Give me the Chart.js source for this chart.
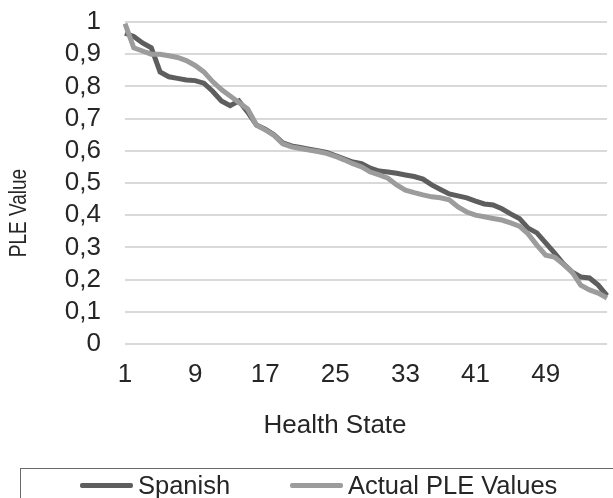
<!DOCTYPE html>
<html lang="en">
<head>
<meta charset="UTF-8">
<title>PLE Value by Health State</title>
<script src="https://cdn.jsdelivr.net/npm/chart.js"></script>
<style>
    html, body { margin: 0; padding: 0; background: #fff; }
    .wrap { position: relative; width: 613px; height: 498px; overflow: hidden; }
    .legend {
        position: absolute; left: 20px; top: 468px; width: 640px; height: 60px;
        border: 1.5px solid #6a6a6a; box-sizing: border-box;
        font-family: "Liberation Sans", Arial, sans-serif; font-size: 25.5px; color: #262626;
    }
    .legend .item { position: absolute; top: 2px; white-space: nowrap; line-height: 28px; }
    .legend .swatch { display: inline-block; width: 53px; height: 5px; border-radius: 2px; vertical-align: middle; margin-right: 5px; position: relative; top: -2px; }
</style>
</head>
<body>
<div class="wrap">
    <canvas id="pleChart" width="613" height="498"></canvas>
    <div class="legend">
        <div class="item" style="left: 59px;"><span class="swatch" style="background:#5e5e5e"></span>Spanish</div>
        <div class="item" style="left: 269px;"><span class="swatch" style="background:#9c9c9c"></span>Actual PLE Values</div>
    </div>
</div>
<script>
// health states 1..56
const healthStates = Array.from({ length: 56 }, (_, i) => String(i + 1));

const spanish = [
    0.965, 0.955, 0.935, 0.92, 0.845, 0.83, 0.825, 0.82, 0.818, 0.81,
    0.785, 0.755, 0.74, 0.755, 0.72, 0.68, 0.667, 0.65, 0.625, 0.615,
    0.61, 0.605, 0.60, 0.595, 0.585, 0.575, 0.565, 0.56, 0.546, 0.537,
    0.534, 0.53, 0.525, 0.52, 0.512, 0.494, 0.48, 0.466, 0.46, 0.454,
    0.444, 0.435, 0.432, 0.42, 0.404, 0.39, 0.36, 0.345, 0.314, 0.283,
    0.25, 0.224, 0.208, 0.205, 0.183, 0.15
];

const actualPle = [
    0.995, 0.92, 0.91, 0.90, 0.90, 0.895, 0.89, 0.88, 0.865, 0.845,
    0.815, 0.79, 0.77, 0.75, 0.73, 0.68, 0.665, 0.648, 0.622, 0.612,
    0.607, 0.602, 0.598, 0.592, 0.583, 0.572, 0.56, 0.55, 0.534, 0.525,
    0.515, 0.494, 0.478, 0.47, 0.463, 0.457, 0.454, 0.448, 0.426, 0.41,
    0.40, 0.395, 0.39, 0.385, 0.376, 0.366, 0.342, 0.307, 0.276, 0.27,
    0.248, 0.224, 0.183, 0.168, 0.158, 0.143
];

const yTicks = [0, 0.1, 0.2, 0.3, 0.4, 0.5, 0.6, 0.7, 0.8, 0.9, 1];

const fontFamily = '"Liberation Sans", Arial, sans-serif';
const textColor = '#262626';

// axis titles are off-centre in the original, so they are drawn by hand
const axisTitles = {
    id: 'axisTitles',
    afterDraw(chart) {
        const c = chart.ctx;
        c.save();
        c.fillStyle = textColor;
        c.textAlign = 'center';
        c.textBaseline = 'middle';
        c.font = '26px ' + fontFamily;
        c.fillText('Health State', 335, 426);
        c.translate(19, 213);
        c.rotate(-Math.PI / 2);
        c.scale(1, 1.3); // the original image is a bit stretched sideways
        c.font = '19px ' + fontFamily;
        c.fillText('PLE Value', 0, 0);
        c.restore();
    }
};

const ctx = document.getElementById('pleChart').getContext('2d');
const pleChart = new Chart(ctx, {
    type: 'line',
    data: {
        labels: healthStates,
        datasets: [{
            label: 'Spanish',
            data: spanish,
            borderColor: '#5e5e5e',
            borderWidth: 5,
            pointRadius: 0,
            tension: 0,
            order: 1
        }, {
            label: 'Actual PLE Values',
            data: actualPle,
            borderColor: '#9c9c9c',
            borderWidth: 5,
            pointRadius: 0,
            tension: 0,
            order: 0
        }]
    },
    options: {
        responsive: false,
        animation: false,
        layout: { padding: { top: 22, right: 6, left: 0, bottom: 48 } },
        plugins: { legend: { display: false }, tooltip: { enabled: false } },
        scales: {
            x: {
                offset: false,
                grid: { display: false, drawTicks: false },
                border: { display: false },
                ticks: {
                    autoSkip: false,
                    maxRotation: 0,
                    padding: 15,
                    color: textColor,
                    font: { family: fontFamily, size: 26 },
                    callback: function (value, index) {
                        return index % 8 === 0 ? healthStates[index] : '';
                    }
                },
                afterFit: function (scale) {
                    scale.height = 106;
                    scale.paddingLeft = 0;
                    scale.paddingRight = 0;
                }
            },
            y: {
                min: 0,
                max: 1,
                afterBuildTicks: function (scale) { scale.ticks = yTicks.map(v => ({ value: v })); },
                grid: { color: '#d9d9d9', lineWidth: 2, drawTicks: false },
                border: { display: false },
                ticks: {
                    autoSkip: false,
                    padding: 24,
                    color: textColor,
                    font: { family: fontFamily, size: 26 },
                    callback: function (value) {
                        return (value === 0 || value === 1) ? String(value) : value.toFixed(1).replace('.', ',');
                    }
                },
                afterFit: function (scale) {
                    scale.width = 125;
                    scale.paddingTop = 0;
                    scale.paddingBottom = 0;
                }
            }
        }
    },
    plugins: [axisTitles]
});
</script>
</body>
</html>
